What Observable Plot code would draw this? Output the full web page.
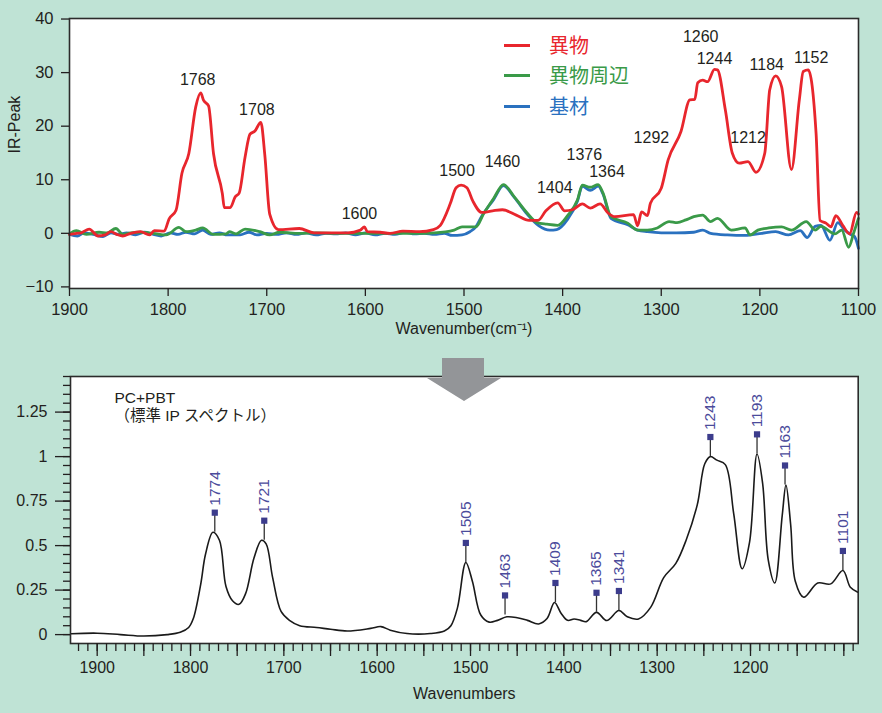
<!DOCTYPE html>
<html>
<head>
<meta charset="utf-8">
<script src="https://cdn.jsdelivr.net/npm/d3@7"></script>
<script src="https://cdn.jsdelivr.net/npm/@observablehq/plot@0.6"></script>
<style>
  html, body { margin: 0; padding: 0; background: #bfe3d5; }
  #wrap { position: relative; width: 882px; height: 713px; background: #bfe3d5; overflow: hidden;
          font-family: "Liberation Sans", Arial, "Noto Sans CJK JP", sans-serif; }
  #top, #bottom { position: absolute; left: 0; }
  #top { top: 0; }
  #bottom { top: 340px; }
  .lg-line { position: absolute; left: 504px; width: 26px; height: 3px; }
  .lg-text { position: absolute; left: 549px; font-size: 20px; line-height: 24px;
             font-family: "Noto Sans CJK JP", sans-serif; white-space: nowrap; }
  #arrow { position: absolute; left: 427px; top: 358px; width: 74px; height: 43px; background: #939598;
           clip-path: polygon(15px 0, 57px 0, 57px 20px, 74px 20px, 37px 43px, 0 20px, 15px 20px); }
</style>
</head>
<body>
<div id="wrap">
  <div id="top"></div>
  <div id="bottom"></div>
  <div id="legend"></div>
  <div id="arrow"></div>
</div>
<script>
// ---------------- Top panel data (IR-Peak) ----------------
const seriesNames = ["異物", "異物周辺", "基材"];

const redWN = [1900,1893,1888,1880,1871,1864,1858,1852,1846,1838,1828,1819,1814,1804,1799,1792,1786,1779,1772,1767,1764,1759,1754,1745,1743,1737,1732,1728,1722,1717,1712,1706,1702,1697,1688,1667,1652,1630,1618,1605,1601,1598,1585,1575,1562,1545,1531,1524,1514,1508,1503,1497,1491,1482,1471,1461,1447,1434,1425,1417,1405,1398,1390,1380,1372,1362,1354,1347,1328,1324,1320,1314,1311,1300,1293,1280,1271,1266,1263,1258,1253,1246,1243,1235,1228,1221,1212,1204,1195,1190,1184,1178,1168,1160,1156,1151,1143,1139,1133,1128,1123,1116,1109,1102,1100];
const redY  = [-0.2,0,0.1,0.8,-0.5,-0.3,0.3,-0.2,-0.5,0,0.3,-0.3,0.5,0.4,2.7,4.3,11.2,14.9,23.6,26.2,24.8,23.8,14.9,7.4,4.8,4.8,6.8,7.5,14.2,18.5,19.1,20.7,14.7,3.6,0.7,0.9,0.1,0.1,0.1,0.6,1.2,0.3,0.2,0,0.4,0.3,0.7,1.5,5.5,8.5,9.0,8.5,6.0,3.9,4.2,4.4,3.4,2.4,2.4,4.2,5.7,4.2,4.4,5.5,4.7,5.5,3.8,3.1,3.5,1.4,4.0,3.3,5.6,8.4,13.7,19.0,24.9,25.0,28.1,28.6,28.3,30.6,30.5,23.0,15.0,13.1,13.4,11.4,15.0,26.8,29.4,27.4,11.9,24.9,30.2,30.5,18.6,2.4,1.9,1.2,3.3,1.5,-0.1,3.9,3.6];

const greenWN = [1900,1893,1883,1870,1862,1853,1846,1838,1829,1815,1802,1789,1782,1772,1765,1754,1741,1738,1731,1722,1707,1697,1687,1667,1650,1630,1610,1590,1570,1550,1530,1510,1502,1488,1480,1470,1460,1449,1436,1426,1416,1405,1395,1385,1380,1372,1364,1359,1351,1334,1324,1314,1304,1292,1284,1275,1267,1258,1250,1243,1229,1215,1210,1202,1191,1178,1168,1153,1144,1138,1124,1117,1110,1105,1100];
const greenY  = [-0.1,0.5,-0.2,0.2,0.1,0.9,-0.2,0.1,0.2,0,-0.3,1.1,0.3,0.6,1.0,-0.2,-0.1,0.3,-0.1,0.8,0.3,-0.3,0.2,0,0.1,0,0,0,0,0,0.1,0.6,1.2,1.2,3.7,6.5,9.1,6.8,3.8,2.0,1.7,1.5,3.3,6.2,9.0,8.6,9.1,7.5,3.1,1.9,0.6,0.6,1.0,2.2,2.0,2.5,3.1,3.4,2.2,2.8,0.6,1.0,-0.3,0.6,1.0,1.2,0.6,2.2,0.6,1.3,-0.1,0.6,-2.6,0,2.8];

const blueWN = [1900,1892,1885,1876,1866,1858,1850,1842,1833,1824,1815,1807,1798,1790,1782,1773,1765,1757,1748,1740,1727,1718,1710,1700,1690,1680,1670,1660,1650,1640,1630,1620,1610,1600,1590,1580,1570,1560,1550,1540,1530,1520,1512,1502,1494,1488,1482,1470,1460,1449,1436,1424,1413,1406,1395,1385,1380,1372,1364,1359,1351,1334,1324,1314,1300,1285,1267,1258,1250,1233,1215,1198,1184,1171,1159,1152,1144,1138,1129,1121,1114,1107,1104,1100];
const blueY  = [-0.2,-0.5,0.1,-0.2,-0.6,0.1,-0.2,0.1,-0.3,0.2,-0.2,-0.5,0.1,-0.2,0.2,-0.1,0.6,-0.2,0.1,-0.3,-0.3,0.2,-0.3,0,-0.2,0.1,-0.2,0.1,-0.3,0,-0.1,0.1,-0.3,0.1,-0.3,0,-0.2,0.2,-0.1,0,-0.2,0,-0.4,-0.3,0.3,1.2,3.2,6.3,8.9,6.7,3.6,1.4,0.6,0.7,2.6,6.0,8.8,8.0,8.8,7.3,2.8,1.6,0.6,0.3,0.1,0.1,0.2,0.6,0,-0.3,-0.4,0,0.3,-0.3,0.5,-0.8,1.3,1.5,-1.3,2.0,0.6,-0.3,-0.6,-2.8];

// peak annotations of the top panel: label, and the place it is written (data units)
const annoText = ["1768","1708","1600","1500","1460","1404","1376","1364","1292","1260","1244","1212","1184","1152"];
const annoX    = [1770,1710,1606,1507,1461,1408,1378,1355,1310,1260,1246,1212,1193,1148];
const annoY    = [28.6,23.0,3.7,11.6,13.3,8.4,14.7,11.4,17.9,36.6,32.5,17.9,31.5,32.7];

const topXTicks = [1900,1800,1700,1600,1500,1400,1300,1200,1100];
const topYTicks = [-10,0,10,20,30,40];

// ---------------- Bottom panel data (PC+PBT standard spectrum) ----------------
const pcWN = [1928,1900,1875,1850,1825,1811,1802,1797,1789,1784,1776,1769,1762,1755,1748,1741,1732,1724,1719,1712,1703,1694,1683,1665,1650,1632,1607,1596,1586,1568,1543,1528,1521,1514,1505,1498,1489,1480,1471,1461,1450,1439,1427,1418,1410,1403,1396,1389,1382,1376,1365,1354,1341,1332,1320,1307,1293,1280,1269,1257,1249,1243,1236,1227,1218,1209,1201,1193,1187,1181,1174,1166,1162,1157,1152,1143,1128,1114,1101,1093,1085];
const pcY  = [0.005,0.008,0.0,-0.008,0.0,0.013,0.04,0.09,0.285,0.45,0.575,0.53,0.27,0.19,0.17,0.23,0.43,0.53,0.51,0.32,0.13,0.08,0.05,0.04,0.03,0.02,0.035,0.045,0.025,0.006,0.006,0.02,0.05,0.15,0.405,0.30,0.11,0.07,0.08,0.10,0.095,0.08,0.06,0.09,0.18,0.12,0.08,0.088,0.08,0.073,0.125,0.079,0.135,0.10,0.088,0.153,0.32,0.40,0.53,0.73,0.96,1.0,0.98,0.955,0.68,0.37,0.52,1.015,0.85,0.42,0.29,0.67,0.84,0.62,0.30,0.21,0.29,0.285,0.36,0.266,0.238];

const peakWN = [1774,1721,1505,1463,1409,1365,1341,1243,1193,1163,1101];
const peakH  = [0.575,0.53,0.405,0.11,0.18,0.125,0.135,1.0,1.015,0.84,0.36];

const botXLabels = [1900,1800,1700,1600,1500,1400,1300,1200];
const botXMid    = [1850,1750,1650,1550,1450,1350,1250,1150,1100];
const botYTicks  = [0,0.25,0.5,0.75,1,1.25];
const panelNote  = "PC+PBT\n（標準 IP スペクトル）";

// ---------------- build ----------------
const FONT = '"Liberation Sans", Arial, "Noto Sans CJK JP", sans-serif';
const INK = "#231f20";
const colors = ["#e8262d", "#3a9a48", "#2a71bf"];

const topRows = [];
[[blueWN, blueY, 2], [greenWN, greenY, 1], [redWN, redY, 0]].forEach(([xs, ys, k]) => {
  xs.forEach((w, i) => topRows.push({wn: w, v: ys[i], s: seriesNames[k]}));
});
const annoRows = annoText.map((t, i) => ({t, x: annoX[i], y: annoY[i]}));

const topPlot = Plot.plot({
  width: 882, height: 340,
  marginLeft: 69, marginRight: 24, marginTop: 18, marginBottom: 52,
  style: {background: "transparent", fontFamily: FONT, fontSize: "16px", color: INK},
  x: {domain: [1900, 1100], label: null},
  y: {domain: [-10.3, 40.1], label: null},
  color: {domain: seriesNames, range: colors},
  marks: [
    Plot.frame({fill: "white", stroke: null}),
    Plot.line(topRows, {x: "wn", y: "v", z: "s", stroke: "s", strokeWidth: 2.8,
      curve: "monotone-x", strokeLinejoin: "round", strokeLinecap: "round"}),
    Plot.text(annoRows, {x: "x", y: "y", text: "t", fontSize: 16, fill: INK}),
    Plot.frame({stroke: "#2b2b2b", strokeWidth: 1.6}),
    Plot.axisY({ticks: topYTicks, tickSize: 8, tickPadding: 8, fontSize: 16.5, strokeWidth: 1.3, label: null}),
    Plot.axisX({ticks: topXTicks, tickSize: 8, tickPadding: 7, fontSize: 16.5, strokeWidth: 1.3, label: null,
      tickFormat: d => String(d)}),
    Plot.text(["IR-Peak"], {text: d => d, frameAnchor: "left", dx: -55, rotate: -90, fontSize: 16, fill: INK}),
    Plot.text(["Wavenumber(cm⁻¹)"], {text: d => d, frameAnchor: "bottom", dy: 45, fontSize: 16, fill: INK})
  ]
});
document.getElementById("top").appendChild(topPlot);

// legend
const lg = document.getElementById("legend");
const lgY = [45, 75, 106];
seriesNames.forEach((n, i) => {
  const l = document.createElement("div");
  l.className = "lg-line"; l.style.top = (lgY[i] - 1.5) + "px"; l.style.background = colors[i];
  lg.appendChild(l);
  const t = document.createElement("div");
  t.className = "lg-text"; t.style.top = (lgY[i] - 12) + "px"; t.style.color = colors[i];
  t.textContent = n;
  lg.appendChild(t);
});

// bottom
const pcRows = pcWN.map((w, i) => ({wn: w, v: pcY[i]}));
const peakRows = peakWN.map((w, i) => ({wn: w, h: peakH[i], m: peakH[i] + 0.11}));
const minorY = d3.range(0, 1.46, 0.05).map(v => Math.round(v * 100) / 100);
const minorX = d3.range(1920, 1084, -10);

const botPlot = Plot.plot({
  width: 882, height: 373,
  marginLeft: 70, marginRight: 24.3, marginTop: 36, marginBottom: 70,
  style: {background: "transparent", fontFamily: FONT, fontSize: "16px", color: INK},
  x: {domain: [1928.6, 1084.6], label: null},
  y: {domain: [-0.05, 1.45], label: null},
  marks: [
    Plot.frame({fill: "white", stroke: null}),
    Plot.line(pcRows, {x: "wn", y: "v", curve: "catmull-rom", stroke: "#1a1a1a", strokeWidth: 1.6}),
    Plot.ruleX(peakRows, {x: "wn", y1: "h", y2: "m", stroke: "#333", strokeWidth: 1.3}),
    Plot.dot(peakRows, {x: "wn", y: "m", symbol: "square", r: 3.5, fill: "#3c3c8c", stroke: null}),
    Plot.text(peakRows, {x: "wn", y: "m", text: d => String(d.wn), rotate: -90, textAnchor: "start",
      dy: -7, fill: "#4b4b9b", fontSize: 15.5}),
    Plot.text([panelNote], {text: d => d, frameAnchor: "top-left", dx: 44, dy: 13, textAnchor: "start",
      lineAnchor: "top", lineHeight: 1.18, fontSize: 15.5, fill: INK}),
    Plot.frame({stroke: "#2b2b2b", strokeWidth: 1.6}),
    Plot.axisY({ticks: minorY, tickSize: 7, fill: "none", strokeWidth: 1.3, label: null}),
    Plot.axisY({ticks: botYTicks, tickSize: 15, tickPadding: 8, strokeWidth: 1.3, label: null,
      tickFormat: d => String(d)}),
    Plot.axisX({ticks: minorX, tickSize: 8, fill: "none", strokeWidth: 1.3, label: null}),
    Plot.axisX({ticks: botXMid, tickSize: 13, fill: "none", strokeWidth: 1.3, label: null}),
    Plot.axisX({ticks: botXLabels, tickSize: 13, tickPadding: 5, strokeWidth: 1.3, label: null,
      tickFormat: d => String(d)}),
    Plot.text(["Wavenumbers"], {text: d => d, frameAnchor: "bottom", dy: 55, fontSize: 16, fill: INK})
  ]
});
document.getElementById("bottom").appendChild(botPlot);
</script>
</body>
</html>
